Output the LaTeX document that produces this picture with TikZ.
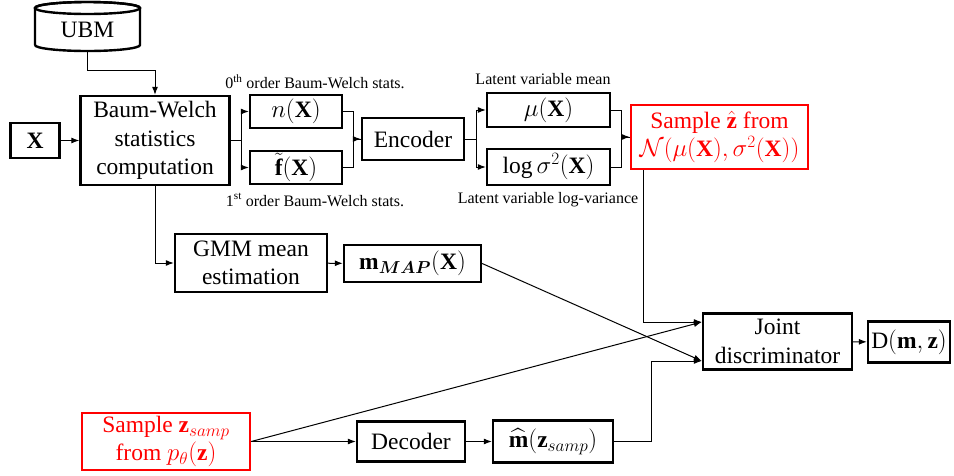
\documentclass[tikz,border=0pt]{standalone}
\usepackage{fontspec}
\usepackage{amsmath}
\setmainfont{Liberation Serif}
\usetikzlibrary{arrows.meta}

\begin{document}
\begin{tikzpicture}[x=1pt, y=-1pt, >={Latex[length=8pt,width=6pt]},
	main/.style = {draw, line width=2.4pt, inner sep=1pt, align=center, font=\fontsize{23.5}{28.5}\selectfont},
	redbox/.style = {main, draw=red, text=red},
	lbl/.style = {font=\fontsize{16}{18}\selectfont},
	conn/.style = {line width=1pt}]
	\useasboundingbox (0,0) rectangle (954,475);
	\draw[line width=2.4pt] (35,45) -- (35,8) arc[start angle=180, end angle=0, x radius=52.5pt, y radius=6pt] -- (140,45) arc[start angle=0, end angle=-180, x radius=52.5pt, y radius=6pt];
	\draw[line width=2.4pt] (87.5,8) ellipse[x radius=52.5pt, y radius=6pt];
	\node[font=\fontsize{23.5}{28.5}\selectfont, minimum width=105pt, minimum height=43pt, inner sep=0pt] (ubm) at (87.5,29.5) {UBM};
	\node[main, minimum width=49pt, minimum height=35pt] (x) at (35,140.5) {$\mathbf{X}$};
	\node[main, minimum width=149pt, minimum height=89pt] (bw) at (155,140.5) {Baum-Welch\\statistics\\computation};
	\node[main, minimum width=92pt, minimum height=33pt] (n) at (296,111.5) {$n(\mathbf{X})$};
	\node[main, minimum width=92pt, minimum height=33pt] (f) at (296,167.5) {$\tilde{\mathbf{f}}(\mathbf{X})$};
	\node[main, minimum width=102pt, minimum height=42pt] (enc) at (413,139) {Encoder};
	\node[main, minimum width=123pt, minimum height=34pt] (mu) at (548.5,110) {$\mu(\mathbf{X})$};
	\node[main, minimum width=123pt, minimum height=36pt] (lsig) at (548.5,167) {$\log\sigma^2(\mathbf{X})$};
	\node[redbox, minimum width=177pt, minimum height=64pt] (zhat) at (719.5,137) {Sample $\hat{\mathbf{z}}$ from\\$\mathcal{N}(\mu(\mathbf{X}),\sigma^2(\mathbf{X}))$};
	\node[main, minimum width=152pt, minimum height=58pt] (gmm) at (251,263) {GMM mean\\estimation};
	\node[main, minimum width=137pt, minimum height=37pt] (mmap) at (412.5,263.5) {$\mathbf{m}_{\boldsymbol{MAP}}(\mathbf{X})$};
	\node[main, minimum width=149pt, minimum height=56pt] (joint) at (777.5,341.5) {Joint\\discriminator};
	\node[main, minimum width=82pt, minimum height=41pt] (d) at (909,342) {$\mathrm{D}(\mathbf{m},\mathbf{z})$};
	\node[redbox, minimum width=168pt, minimum height=57pt] (zsamp) at (166,441.5) {Sample $\mathbf{z}_{samp}$\\from $p_\theta(\mathbf{z})$};
	\node[main, minimum width=108pt, minimum height=40pt] (dec) at (411,441.5) {Decoder};
	\node[main, minimum width=120pt, minimum height=42pt] (mhat) at (553,441.5) {$\widehat{\mathbf{m}}(\mathbf{z}_{samp})$};
	\node[lbl] (l0) at (315,82) {0\textsuperscript{th} order Baum-Welch stats.};
	\node[lbl] (l1) at (315,200) {1\textsuperscript{st} order Baum-Welch stats.};
	\node[lbl] (lmu) at (543,79) {Latent variable mean};
	\node[lbl] (lsg) at (548,200) {Latent variable log-variance};
	\draw[conn, ->] (ubm.south) |- ([yshift=24pt]bw.north) -- (bw.north);
	\draw[conn, ->] (x) -- (bw);
	\draw[conn, ->] (bw.east) -- ++(11,0) |- (n.west);
	\draw[conn, ->] (bw.east) -- ++(11,0) |- (f.west);
	\draw[conn, ->] (n.east) -- ++(10,0) |- (enc.west);
	\draw[conn] (f.east) -- ++(10,0) |- (enc.west);
	\draw[conn, ->] (enc.east) -- ++(11,0) |- (mu.west);
	\draw[conn, ->] (enc.east) -- ++(11,0) |- (lsig.west);
	\draw[conn, ->] (mu.east) -- ++(10,0) |- (zhat.west);
	\draw[conn] (lsig.east) -- ++(10,0) |- (zhat.west);
	\draw[conn, ->] ([xshift=14pt]zhat.south west) |- ([yshift=19.5pt]joint.west);
	\draw[conn, ->] (bw.south) |- (gmm.west);
	\draw[conn, ->] (gmm) -- (mmap);
	\draw[conn, ->] (mmap.east) -- ([yshift=-19.5pt]joint.west);
	\draw[conn, ->] (zsamp.east) -- ([yshift=19.5pt]joint.west);
	\draw[conn, ->] (zsamp) -- (dec);
	\draw[conn, ->] (dec) -- (mhat);
	\draw[conn, ->] (mhat.east) -- ++(37,0) |- ([yshift=-19.5pt]joint.west);
	\draw[conn, ->] (joint) -- (d);
\end{tikzpicture}
\end{document}
